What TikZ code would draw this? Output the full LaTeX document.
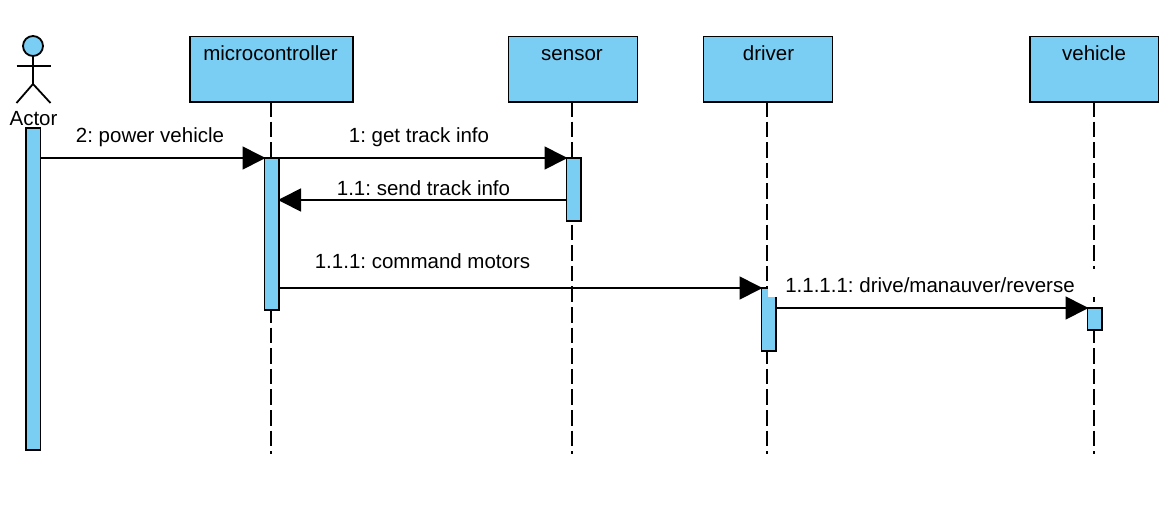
\documentclass[tikz,border=0pt]{standalone}
\usepackage{fontspec}
\setmainfont{Liberation Sans}
\usetikzlibrary{arrows.meta}
\definecolor{umlblue}{HTML}{7ACEF4}
\tikzset{
  lifebox/.style={draw=black,fill=umlblue,line width=1.9pt,rectangle,inner sep=0pt,outer sep=0pt,anchor=north west,minimum height=65.5pt},
  actbar/.style={draw=black,fill=umlblue,line width=1.7pt,rectangle,inner sep=0pt,outer sep=0pt,anchor=north west,minimum width=14.5pt},
  lifeline/.style={draw=black,line width=2pt,dash pattern=on 15.5pt off 5.1pt},
  msg/.style={draw=black,line width=1.7pt,-{Triangle[length=23pt,width=23pt]},shorten >=-1pt},
  lbl/.style={font=\fontsize{20.5}{23}\selectfont,inner sep=0pt,outer sep=0pt,anchor=base},
  stick/.style={draw=black,line width=1.8pt}
}
\begin{document}
\frenchspacing
\begin{tikzpicture}[x=1pt,y=-1pt]
\useasboundingbox (0,0) rectangle (1168,507);
% heads
\node[lifebox,minimum width=163pt] (micro) at (190,36.5) {};
\node[lifebox,minimum width=129pt] (sensor) at (508.5,36.5) {};
\node[lifebox,minimum width=129pt] (driver) at (703.5,36.5) {};
\node[lifebox,minimum width=128.5pt] (vehicle) at (1030,36.5) {};
\node[lbl] (microt) at (270.5,60) {microcontroller};
\node[lbl] (sensort) at (572,60) {sensor};
\node[lbl] (drivert) at (768.5,60) {driver};
\node[lbl] (vehiclet) at (1094,60) {vehicle};
% lifeline ends
\coordinate (microend) at (270.5,454);
\coordinate (sensorend) at (571.5,454);
\coordinate (driverend) at (766.5,454);
\coordinate (vehicleend) at (1093.5,454);
\draw[lifeline] (270.5,101) -- (microend);
\draw[lifeline] (571.5,101) -- (sensorend);
\draw[lifeline] (766.5,101) -- (driverend);
\draw[lifeline] (1093.5,101) -- (vehicleend);
% actor
\node[circle,draw=black,fill=umlblue,line width=1.8pt,outer sep=0pt,minimum size=20pt,inner sep=0pt] (head) at (33,46) {};
\coordinate (hip) at (33,84);
\coordinate (armL) at (16.5,66);
\coordinate (armR) at (50.5,66);
\coordinate (legL) at (16.5,103);
\coordinate (legR) at (50.5,103);
\draw[stick] (head.south) -- (hip);
\draw[stick] (armL) -- (armR);
\draw[stick] (legL) -- (hip) -- (legR);
\node[lbl] (actort) at (33.5,125) {Actor};
% activations
\node[actbar,minimum height=322pt] (actorbar) at (26,128) {};
\node[actbar,minimum height=152pt] (microbar) at (264.5,158) {};
\node[actbar,minimum height=63pt] (sensorbar) at (566.5,158) {};
\node[actbar,minimum height=63pt] (driverbar) at (761.5,288) {};
\node[actbar,minimum height=22pt] (vehiclebar) at (1087.5,308) {};
% white background of the last label
\node[lbl,fill=white,anchor=north west,minimum width=327pt,minimum height=28.5pt] (m5bg) at (768,268.5) {};
% messages
\draw[msg] (actorbar.east |- microbar.north) -- (microbar.north west);
\draw[msg] (microbar.north east) -- (sensorbar.north west);
\coordinate (m2y) at (0,200);
\draw[msg] (sensorbar.west |- m2y) -- (microbar.east |- m2y);
\draw[msg] (microbar.east |- driverbar.north) -- (driverbar.north west);
\draw[msg] (driverbar.east |- vehiclebar.north) -- (vehiclebar.north west);
% labels
\node[lbl] (m0) at (150,142) {2: power vehicle};
\node[lbl] (m1) at (419,142) {1: get track info};
\node[lbl] (m2) at (423.5,195) {1.1: send track info};
\node[lbl] (m3) at (422.5,268) {1.1.1: command motors};
\node[lbl] (m4) at (930,292) {1.1.1.1: drive/manauver/reverse};
\end{tikzpicture}
\end{document}
